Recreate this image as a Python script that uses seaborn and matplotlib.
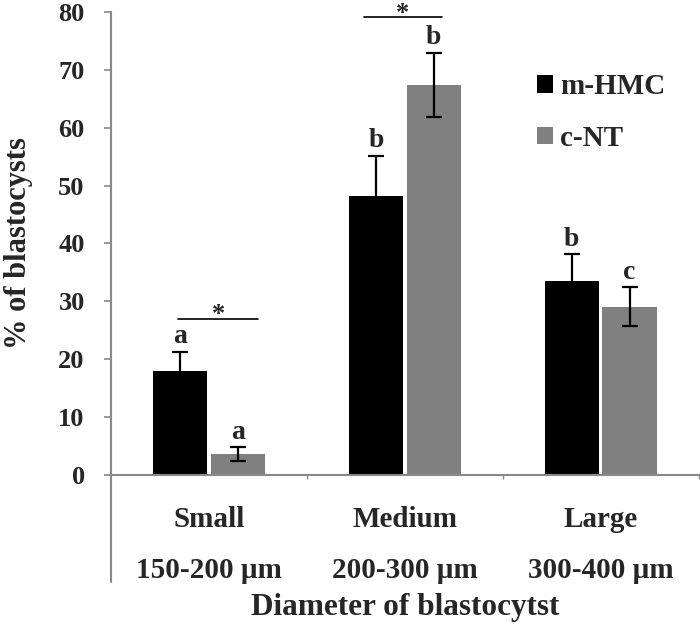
import pandas as pd
import matplotlib
matplotlib.use("Agg")
import matplotlib.pyplot as plt
import seaborn as sns

# values
sizes = ['Small', 'Medium', 'Large']
ranges = ['150-200 µm', '200-300 µm', '300-400 µm']
groups = ['m-HMC', 'c-NT']
hmc_pct = [18.0, 48.2, 33.6]
hmc_err = [3.3, 6.9, 4.5]
cnt_pct = [3.6, 67.4, 29.1]
cnt_err = [1.2, 5.5, 3.3]
hmc_letters = ['a', 'b', 'b']
cnt_letters = ['a', 'b', 'c']

df = pd.DataFrame({
    'size': sizes * 2,
    'group': [groups[0]] * 3 + [groups[1]] * 3,
    'pct': hmc_pct + cnt_pct,
})

sns.set_style("white")
plt.rcParams['font.family'] = ['Liberation Serif', 'DejaVu Serif']
plt.rcParams['font.weight'] = 'bold'

fig = plt.figure(figsize=(7, 6.27), dpi=100)
ax = fig.add_axes([0.1586, 0.2424, 0.8394, 0.7385])

grey = '#898989'
sns.barplot(data=df, x='size', y='pct', hue='group', order=sizes, hue_order=groups,
            palette={'m-HMC': 'black', 'c-NT': '#808080'}, width=0.59, gap=0.06,
            errorbar=None, saturation=1, linewidth=0, ax=ax)

# error bars and letters on top of each bar
for cont, errs, letters in zip(ax.containers, [hmc_err, cnt_err], [hmc_letters, cnt_letters]):
    for bar, e, let in zip(cont, errs, letters):
        xc = bar.get_x() + bar.get_width() / 2
        h = bar.get_height()
        ax.errorbar(xc, h, yerr=e, color='black', capsize=6, elinewidth=1.6,
                    capthick=1.6, fmt='none', zorder=3)
        ax.text(xc, h + e + 1.5, let, ha='center', va='baseline', fontsize=20,
                fontweight='bold')

# significance brackets
ax.plot([-0.16, 0.25], [27.0, 27.0], color='black', lw=1.2, clip_on=False)
ax.text(0.05, 26.6, '*', ha='center', va='baseline', fontsize=19)
ax.plot([0.79, 1.19], [79.1, 79.1], color='black', lw=1.2, clip_on=False)
ax.text(0.99, 78.6, '*', ha='center', va='baseline', fontsize=19, clip_on=False)

ax.set_ylim(0, 80)
ax.set_yticks(range(0, 81, 10))
ax.set_xlim(-0.5, 2.5)
ax.tick_params(axis='y', labelsize=19, length=5, width=1.2, color=grey, pad=14, left=True)
ax.set_xticks([0.5, 1.5, 2.5])
ax.set_xticklabels([])
ax.tick_params(axis='x', length=3, width=1, color=grey, bottom=True)
for t in ax.get_yticklabels():
    t.set_fontweight('bold')

sns.despine(ax=ax)
for s in ['left', 'bottom']:
    ax.spines[s].set_color(grey)
    ax.spines[s].set_linewidth(1.5)

# two-row category axis
for i, (s, r) in enumerate(zip(sizes, ranges)):
    ax.text(i, -0.097, s, transform=ax.get_xaxis_transform(), ha='center', va='center',
            fontsize=21, fontweight='bold')
    ax.text(i, -0.207, r, transform=ax.get_xaxis_transform(), ha='center', va='center',
            fontsize=21, fontweight='bold')
ax.plot([0, 0], [0, -0.231], transform=ax.transAxes, color=grey, lw=1.5, clip_on=False)

ax.set_xlabel('Diameter of blastocytst', fontsize=22.5, fontweight='bold', va='center')
ax.xaxis.set_label_coords(0.5, -0.287)
ax.set_ylabel('% of blastocysts', fontsize=22, fontweight='bold', va='center')
ax.yaxis.set_label_coords(-0.158, 0.5)

ax.legend(title=None, frameon=False, loc='upper left', bbox_to_anchor=(0.725, 0.868),
          handlelength=0.55, handleheight=0.55, handletextpad=0.25,
          labelspacing=0.85, borderpad=0, borderaxespad=0,
          prop={'weight': 'bold', 'size': 21})

fig.savefig('out.png', dpi=100)
